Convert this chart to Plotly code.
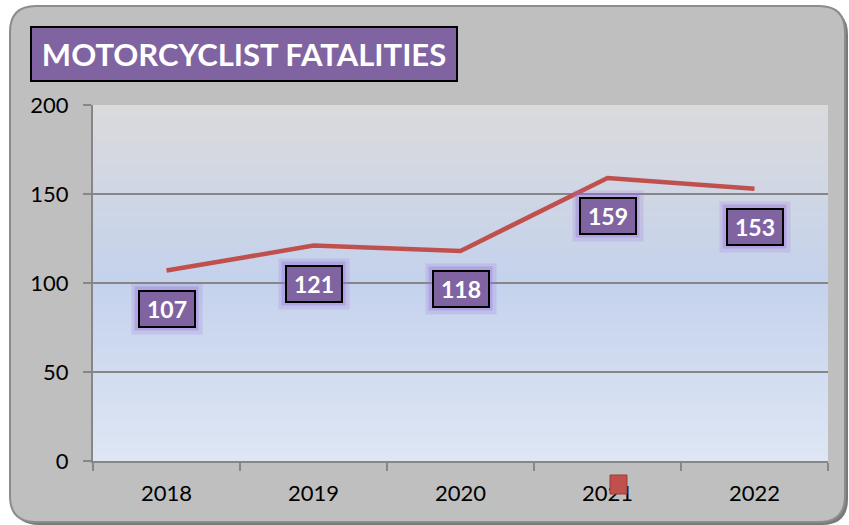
import plotly.graph_objects as go

years = ["2018", "2019", "2020", "2021", "2022"]
fatalities = [107, 121, 118, 159, 153]
y_ticks = [0, 50, 100, 150, 200]
title_text = "MOTORCYCLIST FATALITIES"

W, H = 849, 525
L, R, T, B = 93, 21, 105, 64
PW, PH = W - L - R, H - T - B

def px(x):
    return (x - L) / PW

def py(y):
    return (H - B - y) / PH

fig = go.Figure()
fig.add_trace(go.Scatter(
    x=years, y=fatalities, mode="lines",
    line=dict(color="#C0504D", width=4.5),
    hoverinfo="skip", showlegend=False,
))

shapes = []
x0, y0, x1, y1, r = 10, 6, 845, 522, 26
def P(x, y):
    return f"{px(x):.5f},{py(y):.5f}"
def rpath(x0, y0, x1, y1, r):
    return (f"M {P(x0+r,y0)} L {P(x1-r,y0)} Q {P(x1,y0)} {P(x1,y0+r)} "
            f"L {P(x1,y1-r)} Q {P(x1,y1)} {P(x1-r,y1)} L {P(x0+r,y1)} "
            f"Q {P(x0,y1)} {P(x0,y1-r)} L {P(x0,y0+r)} Q {P(x0,y0)} {P(x0+r,y0)} Z")
shapes.append(dict(type="path", xref="paper", yref="paper", path=rpath(x0+3, y0+3, x1+3, y1+3, r),
                   fillcolor="#7a7a7a", line=dict(width=0), layer="below"))
shapes.append(dict(type="path", xref="paper", yref="paper", path=rpath(x0, y0, x1, y1, r),
                   fillcolor="#BFBFBF", line=dict(color="#8C8C8C", width=2), layer="below"))

def lerp(c1, c2, t):
    return tuple(int(round(a + (b - a) * t)) for a, b in zip(c1, c2))
top, mid, bot = (218, 218, 220), (196, 210, 236), (222, 230, 244)
n = 60
for i in range(n):
    t = i / (n - 1)
    c = lerp(top, mid, t / 0.5) if t < 0.5 else lerp(mid, bot, (t - 0.5) / 0.5)
    shapes.append(dict(type="rect", xref="paper", yref="paper",
                       x0=0, x1=1, y0=1 - (i + 1) / n - 0.002, y1=1 - i / n,
                       fillcolor="rgb(%d,%d,%d)" % c, line=dict(width=0), layer="below"))

annotations = []
annotations.append(dict(xref="paper", yref="paper", x=px(244), y=py(54),
                        xanchor="center", yanchor="middle", showarrow=False,
                        text="<b>" + title_text + "</b>", width=424, height=52,
                        bgcolor="#8064A2", bordercolor="black", borderwidth=2, borderpad=0,
                        font=dict(family="Lato", size=31, color="white")))
for i, v in enumerate(fatalities):
    annotations.append(dict(x=i, y=v, xref="x", yref="y", showarrow=False,
                            yshift=-38, text="", width=70, height=50,
                            bgcolor="rgba(160,125,225,0.22)", borderpad=0))
    annotations.append(dict(x=i, y=v, xref="x", yref="y", showarrow=False,
                            yshift=-38, text="", width=63, height=43,
                            bgcolor="rgba(150,115,215,0.35)", borderpad=0))
    annotations.append(dict(x=i, y=v, xref="x", yref="y", showarrow=False,
                            yshift=-38, text="<b>%d</b>" % v, width=54, height=34,
                            bgcolor="#8064A2", bordercolor="black", borderwidth=2, borderpad=0,
                            font=dict(family="Lato", size=23, color="white")))

fig.update_layout(
    width=W, height=H,
    margin=dict(l=L, r=R, t=T, b=B, pad=0),
    paper_bgcolor="white", plot_bgcolor="rgba(0,0,0,0)",
    shapes=shapes, annotations=annotations,
    showlegend=False,
    font=dict(family="Lato", size=22, color="black"),
    xaxis=dict(type="category", range=[-0.5, 4.5], tickson="boundaries",
               ticks="outside", ticklen=8, tickcolor="#868686", tickwidth=2,
               showline=True, linecolor="#868686", linewidth=2,
               showgrid=False, tickfont=dict(size=22), ticklabelstandoff=12,
               fixedrange=True),
    yaxis=dict(range=[0, 200], tickvals=y_ticks, ticks="outside", ticklen=8,
               tickcolor="#868686", tickwidth=2, showline=True, linecolor="#868686",
               linewidth=2, gridcolor="#868686", gridwidth=2, zeroline=False,
               tickfont=dict(size=22), ticklabelstandoff=10, fixedrange=True),
)

# small red legend-key artifact, drawn on top of the tick labels
fig.add_shape(type="rect", xref="paper", yref="paper",
              x0=px(610), x1=px(627), y0=py(494), y1=py(475),
              fillcolor="#C0504D", line=dict(color="#9e3b38", width=1), layer="above")

fig.write_html("out.html", config={"displayModeBar": False},
               post_script="document.body.style.margin='0';")
